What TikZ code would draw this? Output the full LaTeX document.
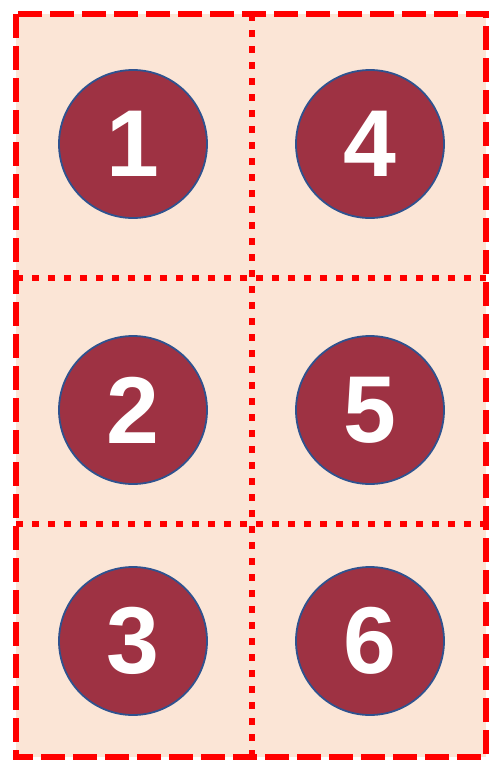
\documentclass[tikz,border=0pt]{standalone}
\usepackage{fontspec}
\setmainfont{Liberation Sans}
\usetikzlibrary{positioning}
\definecolor{cellfill}{RGB}{251,229,214}
\definecolor{discfill}{RGB}{158,50,67}
\definecolor{discedge}{RGB}{47,82,143}
\definecolor{gridred}{RGB}{255,0,0}

\begin{document}
\begin{tikzpicture}[x=1pt, y=-1pt,
  disc/.style={circle, draw=discedge, line width=1.8pt, fill=discfill,
               minimum size=148pt, inner sep=0pt, text=white,
               font=\fontsize{95}{95}\selectfont\bfseries},
  outer/.style={draw=gridred, line width=6pt, dash pattern=on 24pt off 8pt},
  divider/.style={draw=gridred, line width=6.5pt, dash pattern=on 7pt off 9pt}
]
  \useasboundingbox (0,0) rectangle (488,761);
  \fill[cellfill] (16,14) rectangle (486,757);

  % numbered discs
  \foreach \n/\x/\y in {1/133/144, 2/133/410, 3/133/641,
                        4/370/144, 5/370/410, 6/370/641}
    \node[disc] (d\n) at (\x,\y) {\n};

  % cell dividers
  \draw[divider] (252,14) -- (252,757);
  \draw[divider] (16,278) -- (486,278);
  \draw[divider] (16,524) -- (486,524);

  % frame
  \draw[outer] (16,14) rectangle (486,757);
\end{tikzpicture}
\end{document}
